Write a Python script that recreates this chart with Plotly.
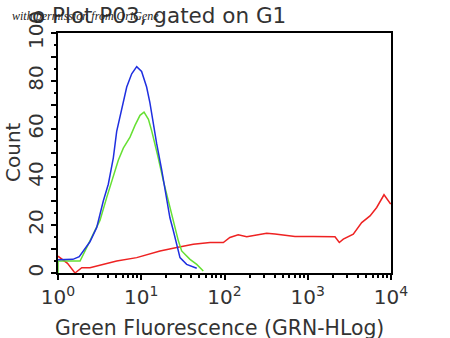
import plotly.graph_objects as go

# Data
blue_x = [1.0, 1.3, 1.51, 1.8, 2.01, 2.42, 2.92, 3.5, 4.02, 4.62, 5.07, 5.82, 6.69, 7.68, 8.82,
          10.1, 11.6, 12.7, 14.0, 15.3, 17.6, 20.2, 22.1, 24.3, 26.7, 29.2, 35.1, 46.4]
blue_y = [5.5, 5.5, 5.7, 6.8, 9, 13, 19, 30, 37, 48, 59, 68, 77.5, 83, 86,
          84, 77.5, 71, 61, 54, 43, 31.5, 23, 17.6, 12, 6.4, 3.6, 2]

green_x = [1.0, 1.0, 1.3, 1.84, 2.21, 2.66, 3.2, 3.85, 4.62, 5.3, 6.09, 7.33, 8.41, 9.66, 10.8,
           12.2, 13.4, 14.6, 16.0, 18.4, 20.2, 22.1, 25.4, 27.9, 30.6, 38.5, 46.4, 55.6]
green_y = [0, 5, 5, 5, 10.6, 16, 22, 31.5, 40, 47, 52, 56.6, 61.5, 65.7, 67,
           64, 59, 54, 48, 38.5, 33, 27, 20, 13.4, 9.2, 5.7, 3.6, 0.8]

red_x = [1.0, 1.3, 1.6, 1.93, 2.42, 5.07, 8.82, 16.8, 26.7, 42.2, 67, 96.8, 116, 146, 185,
         244, 321, 404, 703, 1167, 2124, 2393, 2673, 3524, 4446, 5598, 6733, 8241, 9289, 9911]
red_y = [7, 4, 0, 2.2, 2.2, 5, 6.4, 9.2, 10.6, 12, 12.7, 12.7, 14.8, 15.9, 15.1,
         15.9, 16.6, 16.2, 15.2, 15.2, 15.1, 12.7, 14.1, 16.2, 21, 23.8, 27.3, 32.6, 30.1, 28.7]

x_tickvals = [1, 10, 100, 1000, 10000]
x_ticktext = ["10<sup>0</sup>", "10<sup>1</sup>", "10<sup>2</sup>", "10<sup>3</sup>", "10<sup>4</sup>"]
y_tickvals = [0, 10, 20, 30, 40, 50, 60, 70, 80, 90, 100]
y_ticktext = ["0", "", "20", "", "40", "", "60", "", "80", "", "100"]

title_text = "o Plot P03, gated on G1"
x_title = "Green Fluorescence (GRN-HLog)"
y_title = "Count"
watermark = "with permission from OriGene"

x_minor = [m * d for d in [1, 10, 100, 1000] for m in range(2, 10)]

fig = go.Figure()
fig.add_trace(go.Scatter(x=red_x, y=red_y, mode="lines", line=dict(color="#ee2222", width=1.5)))
fig.add_trace(go.Scatter(x=green_x, y=green_y, mode="lines", line=dict(color="#66e033", width=1.5)))
fig.add_trace(go.Scatter(x=blue_x, y=blue_y, mode="lines", line=dict(color="#1f2fe0", width=1.5)))

W, H = 450, 338
L, R, T, B = 58, 59, 33, 65
PW, PH = W - L - R, H - T - B
font = "DejaVu Sans"
txt = "#333333"
fig.update_layout(
    width=W, height=H,
    margin=dict(l=L, r=R, t=T, b=B, autoexpand=False),
    paper_bgcolor="white", plot_bgcolor="white",
    showlegend=False,
    font=dict(family=font, size=20, color=txt),
    title=dict(text=title_text, x=32/W, xref="container", xanchor="left",
               y=1-15/H, yref="container", yanchor="middle", automargin=False,
               font=dict(family=font, size=21.5, color=txt)),
)
fig.update_xaxes(
    type="log", range=[0, 4], showgrid=False, zeroline=False, automargin=False,
    showline=True, linecolor="black", linewidth=2, mirror=True,
    ticks="outside", ticklen=5, tickwidth=1.5, tickcolor="black",
    tickvals=x_tickvals, ticktext=x_ticktext,
    minor=dict(tickvals=x_minor, ticks="outside", ticklen=3, tickwidth=1.5, tickcolor="black", showgrid=False),
    tickfont=dict(size=20, color=txt),
)
fig.update_yaxes(
    range=[0, 100], showgrid=False, zeroline=False, automargin=False,
    showline=True, linecolor="black", linewidth=2, mirror=True,
    ticks="outside", ticklen=5, tickwidth=1.5, tickcolor="black",
    tickvals=y_tickvals, ticktext=y_ticktext, tickangle=-90,
    minor=dict(dtick=5, ticks="outside", ticklen=2, tickwidth=1.5, tickcolor="black", showgrid=False),
    tickfont=dict(size=20, color=txt),
)
# axis titles
fig.add_annotation(
    text=x_title, xref="paper", yref="paper", x=(219-L)/PW, y=(H-B-328)/PH,
    xanchor="center", yanchor="middle", showarrow=False,
    font=dict(family=font, size=20.4, color=txt),
)
fig.add_annotation(
    text=y_title, xref="paper", yref="paper", x=(13-L)/PW, y=(H-B-152)/PH,
    xanchor="center", yanchor="middle", showarrow=False, textangle=-90,
    font=dict(family=font, size=20, color=txt),
)
fig.add_annotation(
    text=watermark, xref="paper", yref="paper",
    x=(10-L)/PW, y=1+(T-16)/PH, xanchor="left", yanchor="middle",
    showarrow=False, font=dict(family="Liberation Serif", size=12, color="#222222", style="italic"),
)
fig.write_html("out.html", config={"displayModeBar": False},
               post_script="document.body.style.margin='0px';document.body.style.padding='0px';")
